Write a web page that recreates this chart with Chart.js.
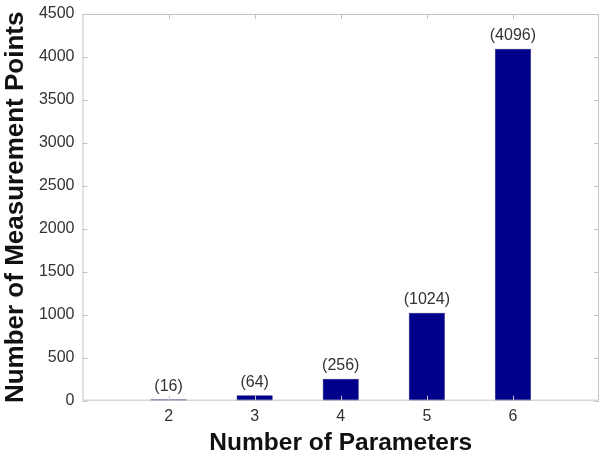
<!DOCTYPE html>
<html>
<head>
<meta charset="utf-8">
<script src="https://cdn.jsdelivr.net/npm/chart.js@4.4.0/dist/chart.umd.min.js"></script>
<style>
    html, body { margin: 0; padding: 0; background: #fff; }
    #wrap { width: 605px; height: 453px; }
</style>
</head>
<body>
<div id="wrap"><canvas id="barChart"></canvas></div>
<script>
// Data
const paramCounts = [2, 3, 4, 5, 6];
const measurementPoints = [16, 64, 256, 1024, 4096];
const yTicks = [0, 500, 1000, 1500, 2000, 2500, 3000, 3500, 4000, 4500];
const xRange = [1, 7];

const barColor = '#00008b';
const axisColor = '#c4c4c4';
const textColor = '#333333';
const fontFamily = '"Liberation Sans", Arial, Helvetica, sans-serif';

// Box around plot area + inward ticks (MATLAB style) + value labels above bars
const matlabStyle = {
    id: 'matlabStyle',
    afterDraw(chart) {
        const ctx = chart.ctx;
        const area = chart.chartArea;
        const xs = chart.scales.x;
        const ys = chart.scales.y;
        ctx.save();
        ctx.strokeStyle = axisColor;
        ctx.lineWidth = 1;
        ctx.strokeRect(area.left + 0.5, area.top + 0.5, area.right - area.left - 1, area.bottom - area.top - 1);

        const tickLen = 5;
        ctx.beginPath();
        yTicks.forEach(v => {
            const y = Math.round(ys.getPixelForValue(v)) + 0.5;
            ctx.moveTo(area.left, y);
            ctx.lineTo(area.left + tickLen, y);
            ctx.moveTo(area.right, y);
            ctx.lineTo(area.right - tickLen, y);
        });
        paramCounts.forEach(v => {
            const x = Math.round(xs.getPixelForValue(v)) + 0.5;
            ctx.moveTo(x, area.bottom);
            ctx.lineTo(x, area.bottom - tickLen);
            ctx.moveTo(x, area.top);
            ctx.lineTo(x, area.top + tickLen);
        });
        ctx.stroke();

        // value labels
        const meta = chart.getDatasetMeta(0);
        ctx.fillStyle = textColor;
        ctx.font = '16px ' + fontFamily;
        ctx.textAlign = 'center';
        ctx.textBaseline = 'bottom';
        meta.data.forEach((bar, i) => {
            ctx.fillText('(' + measurementPoints[i] + ')', bar.x, bar.y - 5);
        });
        ctx.restore();
    }
};

const ctx = document.getElementById('barChart').getContext('2d');
new Chart(ctx, {
    type: 'bar',
    data: {
        datasets: [{
            data: paramCounts.map((p, i) => ({ x: p, y: measurementPoints[i] })),
            backgroundColor: barColor,
            borderColor: '#000066',
            borderWidth: 0.5,
            barPercentage: 0.42,
            categoryPercentage: 1
        }]
    },
    plugins: [matlabStyle],
    options: {
        responsive: true,
        maintainAspectRatio: false,
        animation: false,
        layout: { padding: { left: 1, right: 6, top: 14, bottom: 0 } },
        plugins: {
            legend: { display: false },
            tooltip: { enabled: false }
        },
        scales: {
            x: {
                type: 'linear',
                min: xRange[0],
                max: xRange[1],
                offset: false,
                grid: { display: false, drawTicks: false },
                border: { display: false },
                afterBuildTicks(scale) {
                    scale.ticks = paramCounts.map(v => ({ value: v }));
                },
                ticks: {
                    color: textColor,
                    font: { family: fontFamily, size: 16, lineHeight: 1.0 },
                    padding: 8,
                    callback: v => String(v)
                },
                title: {
                    display: true,
                    text: 'Number of Parameters',
                    color: '#111',
                    font: { family: fontFamily, size: 24.5, weight: 'bold', lineHeight: 0.83 },
                    padding: { top: 0, bottom: 0 }
                }
            },
            y: {
                min: 0,
                max: 4500,
                grid: { display: false, drawTicks: false },
                border: { display: false },
                afterBuildTicks(scale) {
                    scale.ticks = yTicks.map(v => ({ value: v }));
                },
                ticks: {
                    color: textColor,
                    font: { family: fontFamily, size: 16, lineHeight: 0.75 },
                    padding: 8,
                    callback: v => String(v)
                },
                title: {
                    display: true,
                    text: 'Number of Measurement Points',
                    color: '#111',
                    font: { family: fontFamily, size: 26, weight: 'bold', lineHeight: 1.15 },
                    padding: { top: 0, bottom: 0 }
                }
            }
        }
    }
});
</script>
</body>
</html>
